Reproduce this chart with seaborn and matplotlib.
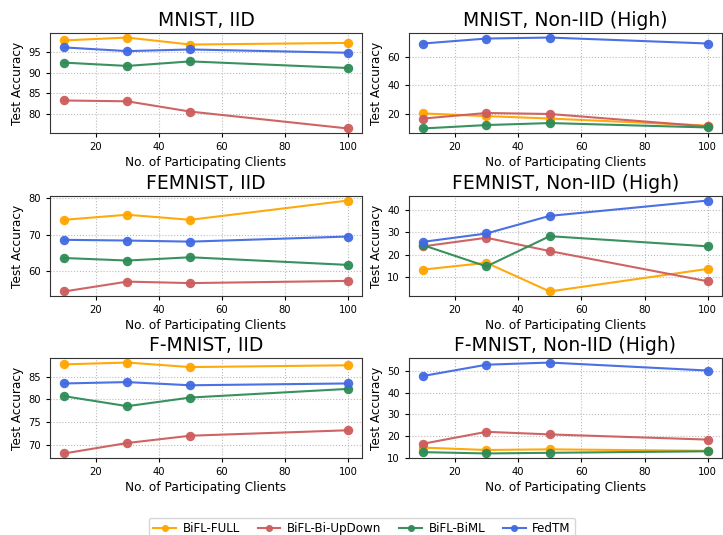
import numpy as np
import pandas as pd
import matplotlib
matplotlib.use("Agg")
import matplotlib.pyplot as plt
from matplotlib.ticker import MultipleLocator
import seaborn as sns

clients = [10, 30, 50, 100]
methods = ["BiFL-FULL", "BiFL-Bi-UpDown", "BiFL-BiML", "FedTM"]
colors = ["#FFA500", "#CD5C5C", "#2E8B57", "#4169E1"]
titles = ["MNIST, IID", "MNIST, Non-IID (High)",
          "FEMNIST, IID", "FEMNIST, Non-IID (High)",
          "F-MNIST, IID", "F-MNIST, Non-IID (High)"]
ytick_steps = [5, 20, 10, 10, 5, 10]

mnist_iid_full = [97.8, 98.5, 96.8, 97.2]
mnist_iid_updown = [83.2, 83.0, 80.5, 76.4]
mnist_iid_biml = [92.4, 91.6, 92.7, 91.1]
mnist_iid_fedtm = [96.1, 95.2, 95.6, 94.8]

mnist_non_full = [20.2, 18.3, 16.6, 11.6]
mnist_non_updown = [16.6, 20.5, 19.8, 11.0]
mnist_non_biml = [9.6, 12.0, 13.4, 10.3]
mnist_non_fedtm = [69.5, 73.0, 73.7, 69.5]

femnist_iid_full = [74.1, 75.5, 74.1, 79.4]
femnist_iid_updown = [54.4, 57.1, 56.7, 57.3]
femnist_iid_biml = [63.6, 62.9, 63.8, 61.7]
femnist_iid_fedtm = [68.6, 68.4, 68.1, 69.5]

femnist_non_full = [13.4, 16.4, 3.7, 13.7]
femnist_non_updown = [23.7, 27.5, 21.6, 8.2]
femnist_non_biml = [24.2, 14.8, 28.2, 23.7]
femnist_non_fedtm = [25.7, 29.4, 37.2, 44.0]

fmnist_iid_full = [87.7, 88.1, 87.1, 87.5]
fmnist_iid_updown = [68.1, 70.4, 72.0, 73.2]
fmnist_iid_biml = [80.7, 78.5, 80.4, 82.3]
fmnist_iid_fedtm = [83.5, 83.8, 83.1, 83.5]

fmnist_non_full = [14.7, 13.6, 13.9, 13.2]
fmnist_non_updown = [16.5, 22.0, 20.8, 18.4]
fmnist_non_biml = [12.6, 12.0, 12.3, 13.0]
fmnist_non_fedtm = [47.8, 53.0, 54.0, 50.3]

panels = [
    [mnist_iid_full, mnist_iid_updown, mnist_iid_biml, mnist_iid_fedtm],
    [mnist_non_full, mnist_non_updown, mnist_non_biml, mnist_non_fedtm],
    [femnist_iid_full, femnist_iid_updown, femnist_iid_biml, femnist_iid_fedtm],
    [femnist_non_full, femnist_non_updown, femnist_non_biml, femnist_non_fedtm],
    [fmnist_iid_full, fmnist_iid_updown, fmnist_iid_biml, fmnist_iid_fedtm],
    [fmnist_non_full, fmnist_non_updown, fmnist_non_biml, fmnist_non_fedtm],
]

plt.rcParams["font.family"] = ["DejaVu Sans"]
fig = plt.figure(figsize=(7.23, 5.35), dpi=100)

W, H = 723, 535
lefts = [50, 409]
rights = [362, 722]
tops = [33, 196, 358]
bots = [133, 296, 458]

palette = dict(zip(methods, colors))
for i, (title, series) in enumerate(zip(titles, panels)):
    r, c = divmod(i, 2)
    ax = fig.add_axes([lefts[c] / W, 1 - bots[r] / H,
                       (rights[c] - lefts[c]) / W, (bots[r] - tops[r]) / H])
    rows = []
    for m, vals in zip(methods, series):
        for x, v in zip(clients, vals):
            rows.append({"clients": x, "acc": v, "method": m})
    df = pd.DataFrame(rows)
    sns.lineplot(data=df, x="clients", y="acc", hue="method", hue_order=methods,
                 palette=palette, marker="o", markersize=6.8, linewidth=1.5,
                 markeredgewidth=0, ax=ax, legend=(i == 0), alpha=0.95)
    ax.yaxis.set_major_locator(MultipleLocator(ytick_steps[i]))
    ax.set_title(title, fontsize=13.5, pad=5)
    ax.set_xlabel("No. of Participating Clients", fontsize=8.7, labelpad=3)
    ax.set_ylabel("Test Accuracy", fontsize=8.7, labelpad=3)
    ax.tick_params(labelsize=7.2, length=3)
    ax.grid(True, linestyle=":", color="#bbbbbb", linewidth=0.8)
    ax.set_axisbelow(True)
    for s in ax.spines.values():
        s.set_color("#333333")
    if i == 0:
        handles, labels = ax.get_legend_handles_labels()
        ax.get_legend().remove()

fig.legend(handles, labels, loc="upper center", ncol=4,
           bbox_to_anchor=(362 / W, 1 - 518 / H), borderaxespad=0,
           fontsize=8.6, frameon=True, columnspacing=1.5, handlelength=1.9,
           handletextpad=0.55, markerscale=0.75, borderpad=0.35)

fig.savefig("out.png", dpi=100)
